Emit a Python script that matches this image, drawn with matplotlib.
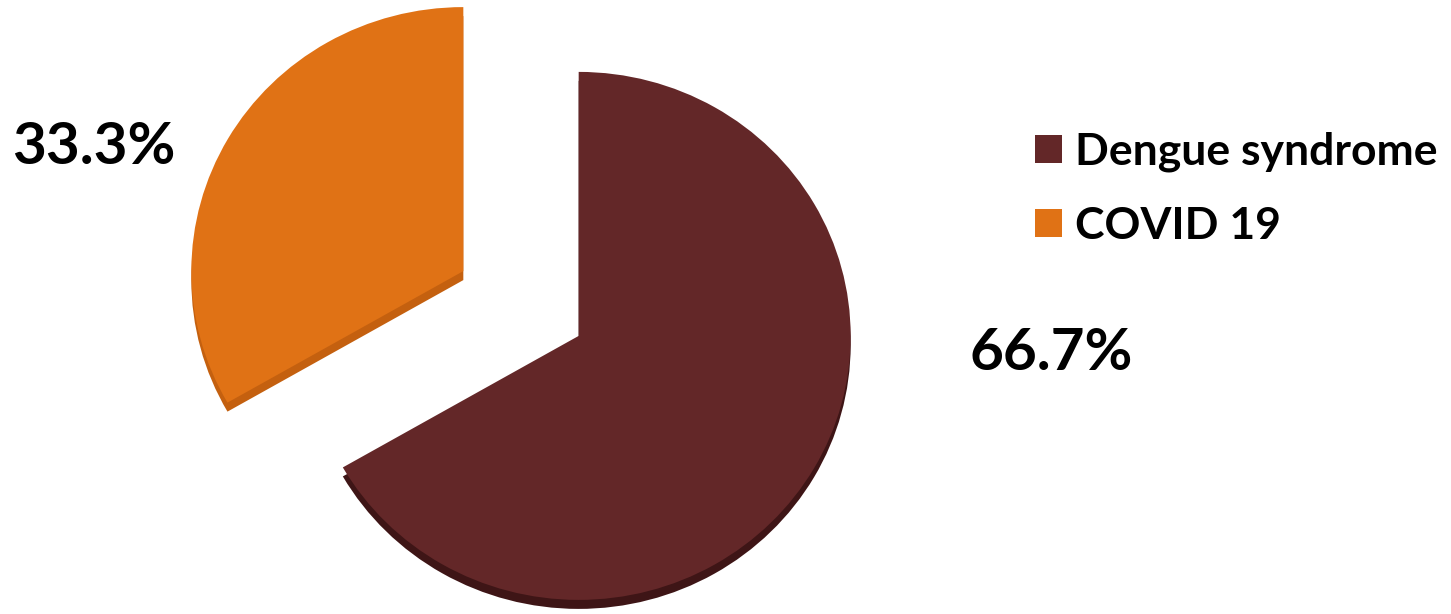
import numpy as np
import matplotlib.pyplot as plt

# -- data
labels = ['Dengue syndrome', 'COVID 19']
shares = [66.7, 33.3]
pct_text = ['66.7%', '33.3%']
colors = ['#632728', '#E07215']
rim_colors = ['#3E1516', '#C4600F']

W, H = 1451, 614
fig = plt.figure(figsize=(W / 100, H / 100), dpi=100)
ax = fig.add_axes([0, 0, 1, 1])

# pixel mapping of the (slightly squashed) pie
cx, cy = 521.0, 303.5
sx, sy = 272.0, 264.0
explode = [0.245, 0.245]
depth = 9 / sy

# darker copy underneath gives the slab edge
ax.pie(shares, colors=rim_colors, startangle=90, counterclock=False,
       explode=explode, center=(0, -depth), radius=1, frame=False)
wedges, _ = ax.pie(shares, colors=colors, startangle=90, counterclock=False,
                   explode=explode, center=(0, 0), radius=1, frame=False)

ax.set_aspect('auto')
ax.set_xlim(-cx / sx, (W - cx) / sx)
ax.set_ylim((cy - H) / sy, cy / sy)
ax.axis('off')

font = 'Lato'
fig.text(94 / W, 1 - 164 / H, pct_text[1], ha='center', va='baseline',
         fontsize=42, fontweight='bold', family=font)
fig.text(1051 / W, 1 - 370 / H, pct_text[0], ha='center', va='baseline',
         fontsize=42, fontweight='bold', family=font)

fig.legend(wedges, labels, loc='upper left',
           bbox_to_anchor=(1035 / W, 1 - 132 / H), frameon=False,
           prop={'family': font, 'weight': 'bold', 'size': 32},
           handlelength=0.6, handleheight=0.6, handletextpad=0.3,
           labelspacing=0.75, borderpad=0, borderaxespad=0)

fig.savefig('out.png', dpi=100)
